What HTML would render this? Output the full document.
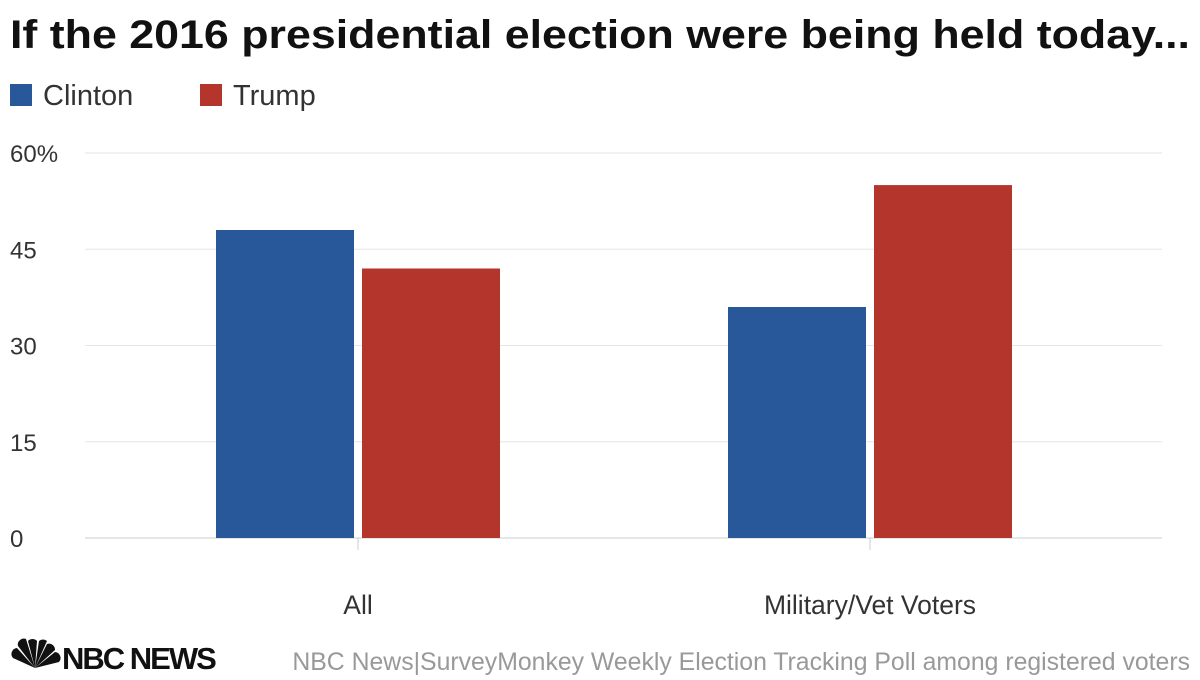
<!DOCTYPE html>
<html><head><meta charset="utf-8"><style>
body{margin:0;background:#fff;width:1200px;height:675px;overflow:hidden;font-family:"Liberation Sans",sans-serif}
</style></head><body>
<svg width="1200" height="675" id="chart">
<text x="10" y="48" font-size="40" font-weight="bold" fill="#111" textLength="1180" lengthAdjust="spacingAndGlyphs">If the 2016 presidential election were being held today...</text>
<g>
<rect x="10" y="84" width="22" height="22" fill="#29589a"/>
<text x="43" y="105" font-size="29" fill="#333">Clinton</text>
<rect x="200" y="84" width="22" height="22" fill="#b3352b"/>
<text x="233" y="105" font-size="29" fill="#333">Trump</text>
</g>
<g id="grid"></g><g id="bars"></g><g id="xaxis"></g>
<g>
<g fill="#111" transform="translate(35,668)">
<path d="M0,0 L-22,-10 A6,6 0 0 1 -18,-20 Z"/><path d="M0,0 L-17,-22 A6,6 0 0 1 -9,-29 Z"/><path d="M0,0 L-7,-27 A6,6 0 0 1 2,-27 Z"/><path d="M0,0 L4,-27 A6,6 0 0 1 12,-27 Z"/><path d="M0,0 L12,-24 A6,6 0 0 1 20,-18 Z"/><path d="M0,0 L20,-16 A6,6 0 0 1 24,-6 Z"/>
</g>
<text x="62" y="669" font-size="31" font-weight="bold" fill="#111" letter-spacing="-2">NBC NEWS</text>
</g>
<text x="1190" y="670" font-size="24.8" fill="#999" text-anchor="end">NBC News|SurveyMonkey Weekly Election Tracking Poll among registered voters</text>
</svg>
<script>
const categories=["All","Military/Vet Voters"];
const clinton=[48,36];
const trump=[42,55];
const ticks=[0,15,30,45,60];
const tickLabels=["0","15","30","45","60%"];
const ns="http://www.w3.org/2000/svg";
const y0=538,yTop=153,vmax=60,left=85,right=1162;
const bandL=102,bandR=1126;
const y=v=>y0-(v/vmax)*(y0-yTop);
const bw=(bandR-bandL)/categories.length;
const cx=i=>bandL+bw*(i+0.5);
function mk(t,a,p){const e=document.createElementNS(ns,t);for(const k in a)e.setAttribute(k,a[k]);p.appendChild(e);return e;}
const g=document.getElementById('grid'),b=document.getElementById('bars'),xa=document.getElementById('xaxis');
ticks.forEach((t,i)=>{
 const l=mk('line',{x1:left,x2:right,y1:y(t),y2:y(t),stroke:i==0?'#ccc':'#e6e6e6','stroke-width':1},g);
 
 
 const tx=mk('text',{x:10,y:y(t)+9,'font-size':24,fill:'#333'},g);tx.textContent=tickLabels[i];
 
 
});
categories.forEach((c,i)=>{
 const c0=cx(i);
 const r1=mk('rect',{x:c0-142,y:y(clinton[i]),width:138,height:y0-y(clinton[i]),fill:'#29589a'},b);
 
 
 const r2=mk('rect',{x:c0+4,y:y(trump[i]),width:138,height:y0-y(trump[i]),fill:'#b3352b'},b);
 
 
 const tk=mk('line',{x1:c0,x2:c0,y1:y0,y2:y0+12,stroke:'#ccc'},xa);
 
 
 const lb=mk('text',{x:c0,y:614,'font-size':26.5,fill:'#333','text-anchor':'middle'},xa);lb.textContent=c;
 
 
});
</script>
</body></html>
